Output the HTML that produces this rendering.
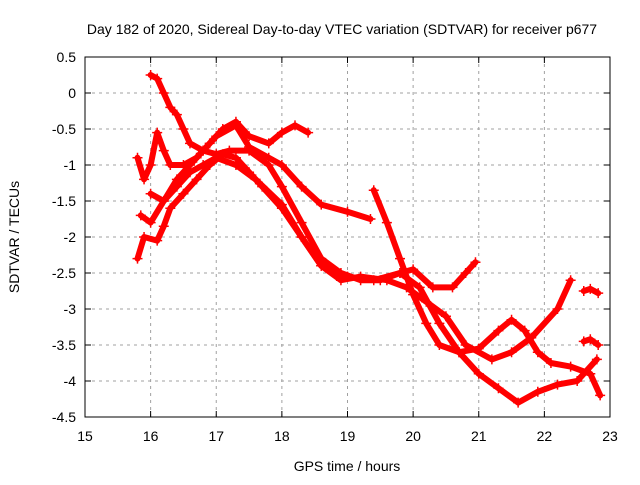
<!DOCTYPE html>
<html><head><meta charset="utf-8"><style>
body{margin:0;background:#fff;}
svg text{font-family:"Liberation Sans",sans-serif;font-size:14px;fill:#000;}
</style></head><body>
<svg id="chart" width="640" height="480">
<text x="342" y="34" text-anchor="middle">Day 182 of 2020, Sidereal Day-to-day VTEC variation (SDTVAR) for receiver p677</text>
<text x="347" y="471" text-anchor="middle">GPS time / hours</text>
<text transform="translate(19,237) rotate(-90)" text-anchor="middle">SDTVAR / TECUs</text>
<g id="grid"></g><g id="ticks"></g><g id="series"></g>
<rect x="85" y="57" width="525" height="360" fill="none" stroke="#000" stroke-width="1"/>
</svg>
<script>
const xTicks=[15,16,17,18,19,20,21,22,23];
const yTicks=[0.5,0,-0.5,-1,-1.5,-2,-2.5,-3,-3.5,-4,-4.5];
const track1=[[16.0,0.25],[16.1,0.2],[16.2,0.0],[16.3,-0.2],[16.4,-0.3],[16.5,-0.5],[16.6,-0.7],[16.8,-0.8],[17.0,-0.85],[17.2,-0.8],[17.5,-0.8],[17.8,-1.0],[18.0,-1.3],[18.3,-1.8],[18.6,-2.3],[18.9,-2.5],[19.2,-2.6],[19.5,-2.6],[19.8,-2.5],[20.0,-2.45],[20.3,-2.7],[20.6,-2.7],[20.8,-2.5],[20.95,-2.35]];
const track2=[[15.8,-0.9],[15.9,-1.2],[16.0,-1.0],[16.1,-0.55],[16.2,-0.8],[16.3,-1.0],[16.5,-1.0],[16.7,-0.9],[16.9,-0.7],[17.1,-0.5],[17.3,-0.4],[17.5,-0.6],[17.8,-0.7],[18.0,-0.55],[18.2,-0.45],[18.4,-0.55]];
const track3=[[15.85,-1.7],[16.0,-1.8],[16.2,-1.5],[16.4,-1.2],[16.6,-1.0],[16.8,-0.8],[17.0,-0.6],[17.3,-0.45],[17.5,-0.75],[17.8,-0.9],[18.0,-1.0],[18.3,-1.3],[18.6,-1.55],[19.0,-1.65],[19.35,-1.75]];
const track4=[[15.8,-2.3],[15.9,-2.0],[16.1,-2.05],[16.2,-1.85],[16.3,-1.6],[16.5,-1.4],[16.7,-1.2],[16.9,-1.0],[17.1,-0.85],[17.3,-0.9],[17.5,-1.1],[17.7,-1.3],[18.0,-1.6],[18.3,-2.0],[18.6,-2.4],[18.9,-2.6],[19.2,-2.55],[19.6,-2.6],[19.9,-2.7],[20.2,-2.9],[20.5,-3.1],[20.8,-3.5],[21.2,-3.7],[21.5,-3.6],[21.8,-3.4],[22.2,-3.0],[22.4,-2.6]];
const track5=[[16.0,-1.4],[16.2,-1.5],[16.4,-1.3],[16.6,-1.1],[16.8,-1.0],[17.0,-0.9],[17.3,-1.0],[17.6,-1.2],[18.0,-1.55],[18.3,-2.0],[18.6,-2.4],[19.0,-2.55],[19.4,-2.6],[19.8,-2.5],[20.1,-2.7],[20.4,-3.2],[20.7,-3.6],[21.0,-3.9],[21.3,-4.1],[21.6,-4.3],[21.9,-4.15],[22.2,-4.05],[22.5,-4.0],[22.8,-3.7]];
const track6=[[19.4,-1.35],[19.6,-1.8],[19.8,-2.3],[20.0,-2.8],[20.2,-3.2],[20.4,-3.5],[20.7,-3.6],[21.0,-3.55],[21.3,-3.3],[21.5,-3.15],[21.7,-3.3],[21.9,-3.6],[22.1,-3.75],[22.4,-3.8],[22.7,-3.9],[22.85,-4.2]];
const track7=[[22.6,-2.75],[22.7,-2.72],[22.82,-2.78]];
const track8=[[22.6,-3.45],[22.7,-3.42],[22.82,-3.5]];
const tracks=[track1,track2,track3,track4,track5,track6,track7,track8];
const X=h=>85+(h-15)*525/8, Y=v=>57+(0.5-v)*72;
const NS="http://www.w3.org/2000/svg";
function mk(t,a,p){const e=document.createElementNS(NS,t);for(const k in a)e.setAttribute(k,a[k]);p.appendChild(e);return e;}
const grid=document.getElementById('grid'),ticks=document.getElementById('ticks'),ser=document.getElementById('series');
xTicks.forEach(t=>{const x=X(t);
 if(t>15&&t<23){const g=mk('line',{x1:x,x2:x,y1:57,y2:417,stroke:'#a0a0a0','stroke-dasharray':'3,4'},grid);
 
 }
 mk('line',{x1:x,x2:x,y1:417,y2:411,stroke:'#000'},ticks);mk('line',{x1:x,x2:x,y1:57,y2:63,stroke:'#000'},ticks);
 const l=mk('text',{x:x,y:441,'text-anchor':'middle'},ticks);l.textContent=t;
 
 });
yTicks.forEach(t=>{const y=Y(t);
 if(t<0.5&&t>-4.5){const g=mk('line',{x1:85,x2:610,y1:y,y2:y,stroke:'#a0a0a0','stroke-dasharray':'3,4'},grid);
 
 }
 mk('line',{x1:85,x2:91,y1:y,y2:y,stroke:'#000'},ticks);mk('line',{x1:610,x2:604,y1:y,y2:y,stroke:'#000'},ticks);
 const l=mk('text',{x:76,y:y+5,'text-anchor':'end'},ticks);l.textContent=t;
 
 });
tracks.forEach((tr,i)=>{
 const g=mk('g',{},ser);
 
 
 mk('polyline',{points:tr.map(p=>X(p[0])+','+Y(p[1])).join(' '),fill:'none',stroke:'#f00','stroke-width':6,'stroke-linejoin':'round','stroke-linecap':'round'},g);
 tr.forEach(p=>{const x=X(p[0]),y=Y(p[1]);
  mk('path',{d:`M${x-5},${y}H${x+5}M${x},${y-5}V${y+5}`,stroke:'#f00','stroke-width':1.5},g);});
});
</script>
</body></html>
